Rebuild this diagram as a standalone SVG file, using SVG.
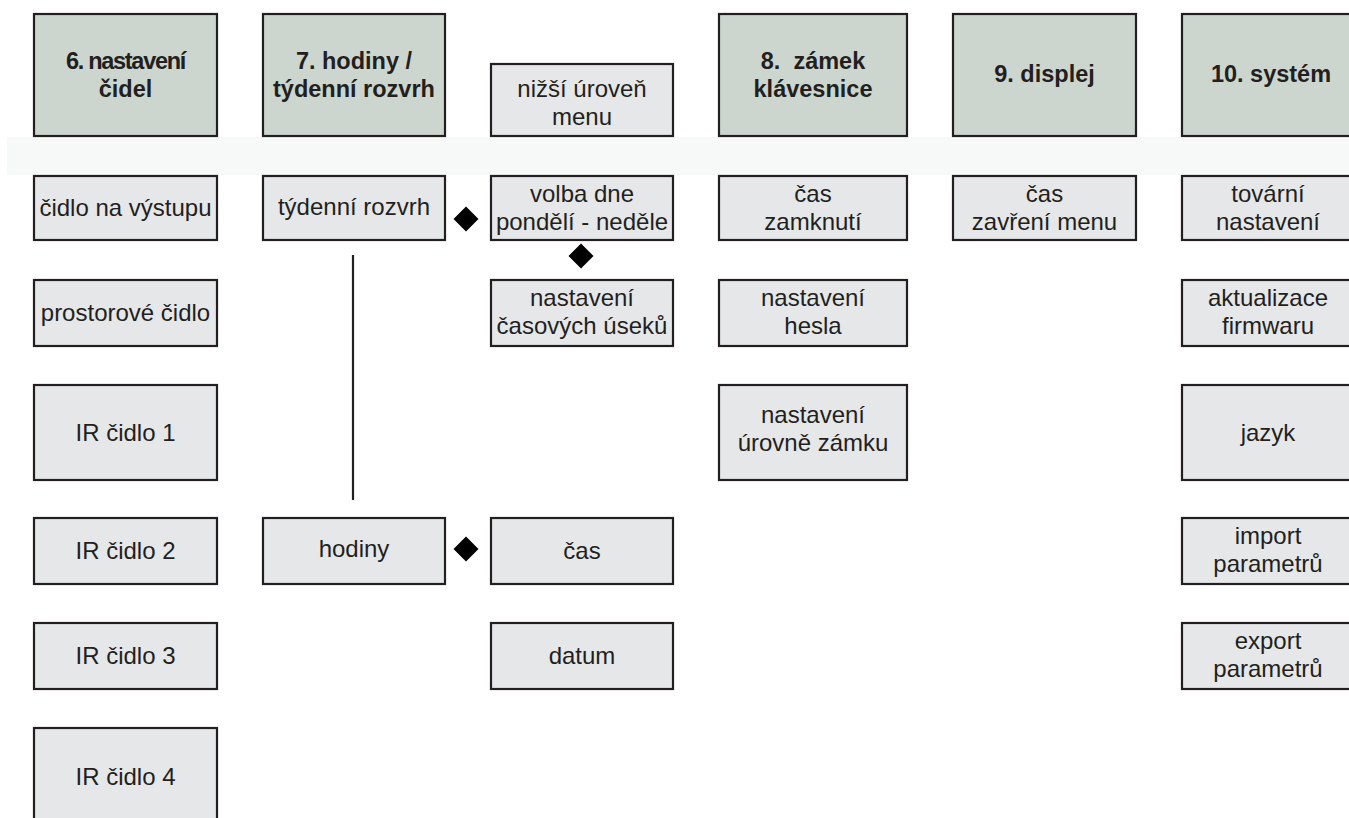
<svg xmlns="http://www.w3.org/2000/svg" width="1349" height="818" viewBox="0 0 1349 818">
<style>
.hd{fill:#ccd6ce;stroke:#231f20;stroke-width:2.2}
.it{fill:#e6e7e8;stroke:#231f20;stroke-width:2.2}
.ht{font-family:"Liberation Sans",Arial,sans-serif;font-size:23.5px;font-weight:bold;fill:#231f20;text-anchor:middle}
.tt{font-family:"Liberation Sans",Arial,sans-serif;font-size:24px;fill:#231f20;text-anchor:middle}
.ln{stroke:#231f20;stroke-width:2.2;fill:none}
.dm{fill:#000}
</style>
<rect x="7" y="137" width="1342" height="38" fill="#f7f9f8"/>
<g id="h6"><rect class="hd" x="34" y="14" width="183" height="122"/><text class="ht" x="125.5" y="69" letter-spacing="-1.3">6. nastavení</text><text class="ht" x="125.5" y="97">čidel</text></g>
<g id="h7"><rect class="hd" x="263" y="14" width="182" height="122"/><text class="ht" x="354" y="69">7. hodiny /</text><text class="ht" x="354" y="97">týdenní rozvrh</text></g>
<g id="sub"><rect class="it" x="491" y="64" width="182" height="72"/><text class="tt" x="582" y="97">nižší úroveň</text><text class="tt" x="582" y="125">menu</text></g>
<g id="h8"><rect class="hd" x="719" y="14" width="188" height="122"/><text class="ht" x="813" y="69" xml:space="preserve">8.  zámek</text><text class="ht" x="813" y="97">klávesnice</text></g>
<g id="h9"><rect class="hd" x="953" y="14" width="183" height="122"/><text class="ht" x="1044.5" y="82">9. displej</text></g>
<g id="h10"><rect class="hd" x="1182" y="14" width="190" height="122"/><text class="ht" x="1271" y="82">10. systém</text></g>

<g id="c1r1"><rect class="it" x="34" y="176" width="183" height="64"/><text class="tt" x="125.5" y="216">čidlo na výstupu</text></g>
<g id="c1r2"><rect class="it" x="34" y="280" width="183" height="66"/><text class="tt" x="125.5" y="321">prostorové čidlo</text></g>
<g id="c1r3"><rect class="it" x="34" y="385" width="183" height="95"/><text class="tt" x="125.5" y="441">IR čidlo 1</text></g>
<g id="c1r4"><rect class="it" x="34" y="518" width="183" height="66"/><text class="tt" x="125.5" y="559">IR čidlo 2</text></g>
<g id="c1r5"><rect class="it" x="34" y="623" width="183" height="66"/><text class="tt" x="125.5" y="664">IR čidlo 3</text></g>
<g id="c1r6"><rect class="it" x="34" y="728" width="183" height="97"/><text class="tt" x="125.5" y="785">IR čidlo 4</text></g>

<g id="c2r1"><rect class="it" x="263" y="176" width="182" height="64"/><text class="tt" x="354" y="215">týdenní rozvrh</text></g>
<g id="c2r4"><rect class="it" x="263" y="518" width="182" height="66"/><text class="tt" x="354" y="557">hodiny</text></g>

<g id="c3r1"><rect class="it" x="491" y="176" width="182" height="64"/><text class="tt" x="582" y="202">volba dne</text><text class="tt" x="582" y="230">pondělí - neděle</text></g>
<g id="c3r2"><rect class="it" x="491" y="280" width="182" height="66"/><text class="tt" x="582" y="306">nastavení</text><text class="tt" x="582" y="334">časových úseků</text></g>
<g id="c3r4"><rect class="it" x="491" y="518" width="182" height="66"/><text class="tt" x="582" y="559">čas</text></g>
<g id="c3r5"><rect class="it" x="491" y="623" width="182" height="66"/><text class="tt" x="582" y="664">datum</text></g>

<g id="c4r1"><rect class="it" x="719" y="176" width="188" height="64"/><text class="tt" x="813" y="202">čas</text><text class="tt" x="813" y="230">zamknutí</text></g>
<g id="c4r2"><rect class="it" x="719" y="280" width="188" height="66"/><text class="tt" x="813" y="306">nastavení</text><text class="tt" x="813" y="334">hesla</text></g>
<g id="c4r3"><rect class="it" x="719" y="385" width="188" height="95"/><text class="tt" x="813" y="423">nastavení</text><text class="tt" x="813" y="451">úrovně zámku</text></g>

<g id="c5r1"><rect class="it" x="953" y="176" width="183" height="64"/><text class="tt" x="1044.5" y="202">čas</text><text class="tt" x="1044.5" y="230">zavření menu</text></g>

<g id="c6r1"><rect class="it" x="1182" y="176" width="190" height="64"/><text class="tt" x="1268" y="202">tovární</text><text class="tt" x="1268" y="230">nastavení</text></g>
<g id="c6r2"><rect class="it" x="1182" y="280" width="190" height="66"/><text class="tt" x="1268" y="306">aktualizace</text><text class="tt" x="1268" y="334">firmwaru</text></g>
<g id="c6r3"><rect class="it" x="1182" y="385" width="190" height="95"/><text class="tt" x="1268" y="441">jazyk</text></g>
<g id="c6r4"><rect class="it" x="1182" y="518" width="190" height="66"/><text class="tt" x="1268" y="544">import</text><text class="tt" x="1268" y="572">parametrů</text></g>
<g id="c6r5"><rect class="it" x="1182" y="623" width="190" height="66"/><text class="tt" x="1268" y="649">export</text><text class="tt" x="1268" y="677">parametrů</text></g>

<g id="connectors">
<line class="ln" x1="353" y1="255" x2="353" y2="500"/>
<path class="dm" d="M466 206.5 L478.5 219 L466 231.5 L453.5 219 Z"/>
<path class="dm" d="M581 243.5 L593.5 256 L581 268.5 L568.5 256 Z"/>
<path class="dm" d="M466 536.5 L478.5 549 L466 561.5 L453.5 549 Z"/>
</g>
</svg>
